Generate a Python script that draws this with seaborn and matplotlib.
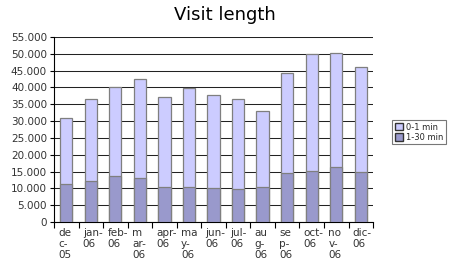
import matplotlib
matplotlib.use("Agg")
import matplotlib.pyplot as plt
import matplotlib.transforms as mtransforms
import seaborn as sns
import pandas as pd
from matplotlib.patches import Patch
from matplotlib.ticker import FuncFormatter, MultipleLocator

months = ["dec-05", "jan-06", "feb-06", "mar-06", "apr-06", "may-06", "jun-06",
          "jul-06", "aug-06", "sep-06", "oct-06", "nov-06", "dic-06"]
tick_labels = ["de\nc-\n05", "jan-\n06", "feb-\n06", "m\nar-\n06", "apr-\n06", "ma\ny-\n06",
               "jun-\n06", "jul-\n06", "au\ng-\n06", "se\np-\n06", "oct-\n06", "no\nv-\n06", "dic-\n06"]
min_0_1 = [19600, 24500, 26200, 29400, 26900, 29500, 27800, 26700, 22600, 29900, 34700, 33700, 31200]
min_1_30 = [11200, 12100, 13800, 13100, 10400, 10300, 10000, 9800, 10400, 14500, 15200, 16400, 14800]

df = pd.DataFrame({"month": months, "short": min_0_1, "long": min_1_30})
df["total"] = df["short"] + df["long"]

sns.set_style("white")
plt.rcParams['font.family'] = ['DejaVu Sans']

fig = plt.figure(figsize=(4.5, 2.66), dpi=100)
ax = fig.add_axes([0.12, 0.165, 0.709, 0.696])

light = "#ccccff"
dark = "#9999cc"
edge = "#7f7f7f"

sns.barplot(data=df, x="month", y="total", color=light, width=0.5, ax=ax,
            edgecolor=edge, linewidth=0.9, saturation=1, zorder=3)
sns.barplot(data=df, x="month", y="long", color=dark, width=0.5, ax=ax,
            edgecolor=edge, linewidth=0.9, saturation=1, zorder=3)

ax.set_ylim(0, 55000)
ax.set_xlim(-0.5, len(months) - 0.5)
ax.yaxis.set_major_locator(MultipleLocator(5000))
ax.yaxis.set_major_formatter(FuncFormatter(lambda v, p: "0" if v == 0 else f"{int(v):,}".replace(",", ".")))
ax.grid(axis="y", color="#222222", linewidth=0.75, zorder=0)
ax.set_axisbelow(True)

ax.set_xticks(range(len(months)))
ax.set_xticklabels(tick_labels, fontsize=7.5, color="#333333", linespacing=1.15)
ax.tick_params(axis="x", length=0, pad=4)
offset = mtransforms.ScaledTranslation(-8.0 / 100, 0, fig.dpi_scale_trans)
for lab in ax.get_xticklabels():
    lab.set_ha("left")
    lab.set_multialignment("left")
    lab.set_transform(lab.get_transform() + offset)
ax.tick_params(axis="y", labelsize=7.5, colors="#333333", length=3, width=0.8, direction="out", left=True, pad=2)
ax.yaxis.set_tick_params(color="black")
# category boundary ticks
ax.set_xticks([i - 0.5 for i in range(len(months) + 1)], minor=True)
ax.tick_params(axis="x", which="minor", length=4, width=0.8, color="black", direction="out", bottom=True)

for s in ["top", "right"]:
    ax.spines[s].set_visible(False)
for s in ["left", "bottom"]:
    ax.spines[s].set_color("black")
    ax.spines[s].set_linewidth(0.8)

ax.set_xlabel("")
ax.set_ylabel("")
fig.text(0.5, 0.944, "Visit length", ha="center", va="center", fontsize=13, color="black")

handles = [Patch(facecolor=light, edgecolor="#333333", label="0-1 min"),
           Patch(facecolor=dark, edgecolor="#333333", label="1-30 min")]
leg = fig.legend(handles=handles, loc="center left", bbox_to_anchor=(0.872, 0.503),
                 fontsize=6, frameon=True, fancybox=False, handlelength=1.0, handleheight=1.0,
                 handletextpad=0.3, borderpad=0.3, labelspacing=0.15, borderaxespad=0)
leg.get_frame().set_edgecolor("#555555")
leg.get_frame().set_linewidth(0.8)

fig.savefig("out.png", dpi=100)
